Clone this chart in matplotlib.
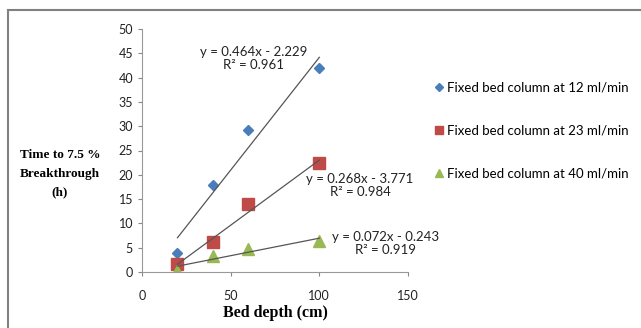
import numpy as np
import matplotlib.pyplot as plt
from matplotlib.patches import Rectangle

# bed depth (cm) and time to 7.5 % breakthrough (h)
profundidade = [20, 40, 60, 100]
t_12 = [4.0, 18.0, 29.3, 42.0]
t_23 = [1.7, 6.2, 14.0, 22.4]
t_40 = [0.3, 3.2, 4.8, 6.4]

# linear trend lines as printed on the chart
inclinacoes = [0.464, 0.268, 0.072]
interceptos = [-2.229, -3.771, -0.243]
r2 = [0.961, 0.984, 0.919]

nomes = ["Fixed bed column at 12 ml/min",
         "Fixed bed column at 23 ml/min",
         "Fixed bed column at 40 ml/min"]

plt.rcParams['font.family'] = ['Lato', 'DejaVu Sans']

fig = plt.figure(figsize=(6.41, 3.28), dpi=100)
ax = fig.add_axes([142/641, 1 - 272/328, 266/641, 243/328])

# moldura cinza
fig.patches.append(Rectangle((8/641, -0.1), 1.1, 1 - 10/328 + 0.1, transform=fig.transFigure,
                             fill=False, edgecolor='#808080', linewidth=1.5))

series = [t_12, t_23, t_40]
marcadores = ['D', 's', '^']
tamanhos = [5.5, 8, 8]
cores = ['#4a7ebb', '#be4b48', '#98b954']

for y, m, s, c, nome in zip(series, marcadores, tamanhos, cores, nomes):
    ax.plot(profundidade, y, linestyle='none', marker=m, markersize=s, color=c, label=nome)

xl = np.array([profundidade[0], profundidade[-1]])
for a, b in zip(inclinacoes, interceptos):
    ax.plot(xl, a * xl + b, color='#555555', linewidth=0.9)

# equacoes
posicoes = [(63, 44.0), (123, 17.7), (137.5, 5.9)]
for (px, py), a, b, r in zip(posicoes, inclinacoes, interceptos, r2):
    ax.text(px, py, f"y = {a:.3f}x - {abs(b):.3f}\nR\u00b2 = {r:.3f}", ha='center', va='center',
            fontsize=9.5, linespacing=1.1, color='#222222', clip_on=False)

ax.set_xlim(0, 150)
ax.set_ylim(0, 50)
ax.set_xticks([0, 50, 100, 150])
ax.set_yticks(range(0, 51, 5))
ax.tick_params(labelsize=9, length=3, color='#888888', labelcolor='#222222')
ax.tick_params(axis='x', pad=10)
for lado in ['top', 'right']:
    ax.spines[lado].set_visible(False)
for lado in ['left', 'bottom']:
    ax.spines[lado].set_color('#999999')

ax.set_xlabel("Bed depth (cm)", family='Liberation Serif', fontweight='bold', fontsize=11.5, labelpad=2)
fig.text(60/641, 1 - 174/328, "Time to 7.5 %\nBreakthrough\n(h)", family='Liberation Serif',
         fontweight='bold', fontsize=9.5, ha='center', va='center', linespacing=1.75)

ax.legend(loc='upper left', bbox_to_anchor=(423/641, 1 - 70/328), bbox_transform=fig.transFigure,
          frameon=False, fontsize=9.5, handlelength=0.6, handletextpad=0.3, labelspacing=2.35,
          markerscale=0.7)

fig.savefig("out.png", dpi=100)
